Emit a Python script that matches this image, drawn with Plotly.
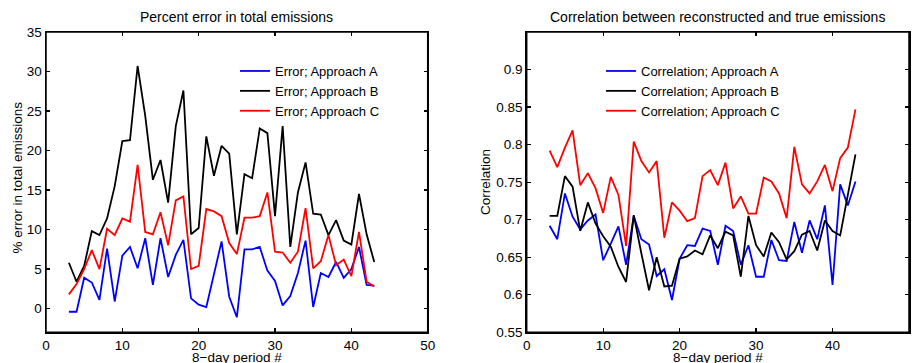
import plotly.graph_objects as go

periods = list(range(3, 44))

err_a = [-0.4, -0.4, 3.9, 3.3, 1.1, 7.6, 0.9, 6.7, 7.8, 5.1, 8.9, 3.0, 8.9, 4.0, 6.8, 8.7,
         1.3, 0.5, 0.2, 4.3, 8.5, 1.5, -1.1, 7.5, 7.5, 7.8, 4.8, 3.5, 0.4, 1.6, 4.5, 8.6,
         0.2, 4.5, 4.0, 5.9, 3.9, 5.0, 7.8, 3.0, 2.9]
err_b = [5.8, 3.4, 5.4, 9.8, 9.3, 11.4, 15.5, 21.2, 21.3, 30.7, 24.4, 16.3, 18.8, 13.4,
         23.1, 27.6, 9.4, 10.2, 21.8, 16.8, 20.6, 19.6, 9.4, 17.0, 16.5, 22.8, 22.2, 11.7,
         23.1, 7.8, 14.7, 18.5, 12.0, 11.9, 9.3, 11.2, 8.6, 8.1, 14.5, 9.4, 5.9]
err_c = [1.8, 3.1, 5.0, 7.4, 5.0, 10.1, 9.3, 11.4, 11.0, 18.2, 9.7, 9.4, 12.2, 8.0, 13.7,
         14.2, 5.0, 5.4, 12.6, 12.3, 11.7, 8.3, 6.9, 11.5, 11.5, 11.7, 14.7, 7.2, 7.1, 5.8,
         7.2, 12.7, 5.1, 6.0, 9.3, 5.5, 6.2, 4.1, 9.7, 3.4, 2.8]

corr_a = [0.692, 0.674, 0.735, 0.704, 0.687, 0.699, 0.707, 0.646, 0.668, 0.691, 0.640,
          0.705, 0.674, 0.667, 0.625, 0.634, 0.593, 0.648, 0.666, 0.665, 0.688, 0.685,
          0.640, 0.692, 0.685, 0.640, 0.666, 0.624, 0.624, 0.673, 0.646, 0.645, 0.697,
          0.656, 0.699, 0.674, 0.719, 0.613, 0.747, 0.719, 0.751]
corr_b = [0.705, 0.705, 0.758, 0.744, 0.685, 0.723, 0.695, 0.678, 0.664, 0.637, 0.617,
          0.706, 0.655, 0.606, 0.650, 0.611, 0.612, 0.648, 0.651, 0.659, 0.654, 0.679,
          0.662, 0.684, 0.679, 0.624, 0.705, 0.666, 0.651, 0.683, 0.670, 0.647, 0.658,
          0.680, 0.685, 0.659, 0.699, 0.685, 0.679, 0.733, 0.787]
corr_c = [0.792, 0.770, 0.796, 0.819, 0.746, 0.762, 0.742, 0.709, 0.757, 0.733, 0.665,
          0.804, 0.778, 0.763, 0.778, 0.676, 0.723, 0.712, 0.698, 0.702, 0.758, 0.766,
          0.746, 0.776, 0.715, 0.731, 0.708, 0.708, 0.756, 0.751, 0.735, 0.702, 0.797,
          0.747, 0.735, 0.751, 0.773, 0.738, 0.782, 0.796, 0.847]

err_ticks = [0, 5, 10, 15, 20, 25, 30, 35]
corr_ticks = [0.55, 0.6, 0.65, 0.7, 0.75, 0.8, 0.85, 0.9]
corr_tick_text = ["0.55", "0.6", "0.65", "0.7", "0.75", "0.8", "0.85", "0.9"]
period_ticks = [0, 10, 20, 30, 40, 50]

colors = {"A": "#0000ff", "B": "#000000", "C": "#ff0000"}
FONT = "Liberation Sans, Arial, Helvetica, sans-serif"
FS = 13.5
W, H = 916, 363

fig = go.Figure()
for key, ys in (("A", err_a), ("B", err_b), ("C", err_c)):
    fig.add_trace(go.Scatter(x=periods, y=ys, mode="lines", name=f"Error; Approach {key}",
                             line=dict(color=colors[key], width=1.8),
                             xaxis="x", yaxis="y", legend="legend"))
for key, ys in (("A", corr_a), ("B", corr_b), ("C", corr_c)):
    fig.add_trace(go.Scatter(x=periods, y=ys, mode="lines", name=f"Correlation; Approach {key}",
                             line=dict(color=colors[key], width=1.8),
                             xaxis="x2", yaxis="y2", legend="legend2"))

ydom = [(H - 332.3) / H, (H - 32) / H]
common = dict(showline=True, linecolor="black", linewidth=1.5, mirror="ticks",
              ticks="inside", ticklen=4, tickwidth=1.2, tickcolor="black", showgrid=False,
              zeroline=False, automargin=False, tickfont=dict(size=FS, color="black"))

fig.update_layout(
    template="none",
    width=W, height=H,
    margin=dict(l=0, r=0, t=0, b=0, pad=0, autoexpand=False),
    paper_bgcolor="white", plot_bgcolor="white",
    font=dict(family=FONT, size=FS, color="black"),
    showlegend=True,
    xaxis=dict(domain=[46 / W, 427.7 / W], range=[0, 50], tickvals=period_ticks,
               anchor="y", **common),
    yaxis=dict(domain=ydom, range=[-3, 35], tickvals=err_ticks, anchor="x", **common),
    xaxis2=dict(domain=[526.7 / W, 909 / W], range=[0, 50], tickvals=period_ticks,
                anchor="y2", **common),
    yaxis2=dict(domain=ydom, range=[0.55, 0.95], anchor="x2",
                tickvals=corr_ticks, ticktext=corr_tick_text, **common),
    legend=dict(x=235 / W, y=(H - 56) / H, xanchor="left", yanchor="top",
                bgcolor="rgba(0,0,0,0)", borderwidth=0, font=dict(size=13),
                itemwidth=30, tracegroupgap=0),
    legend2=dict(x=601 / W, y=(H - 56) / H, xanchor="left", yanchor="top",
                 bgcolor="rgba(0,0,0,0)", borderwidth=0, font=dict(size=13),
                 itemwidth=30, tracegroupgap=0),
)

frame = dict(type="rect", x0=0, x1=1, y0=0, y1=1, line=dict(color="black", width=1.5),
             fillcolor="rgba(0,0,0,0)", layer="above")
fig.add_shape(xref="x domain", yref="y domain", **frame)
fig.add_shape(xref="x2 domain", yref="y2 domain", **frame)

def note(text, x, y, size=FS, **kw):
    fig.add_annotation(text=text, x=x / W, y=(H - y) / H, xref="paper", yref="paper",
                       showarrow=False, font=dict(size=size, family=FONT, color="black"),
                       **kw)

note("Percent error in total emissions", (46 + 427.7) / 2, 16.7, size=14,
     xanchor="center", yanchor="middle")
note("Correlation between reconstructed and true emissions", (526.7 + 909) / 2, 16.7,
     size=14, xanchor="center", yanchor="middle")
note("8\u2212day period #", (46 + 427.7) / 2, 357.5, xanchor="center", yanchor="middle")
note("8\u2212day period #", (526.7 + 909) / 2, 357.5, xanchor="center", yanchor="middle")
note("% error in total emissions", 17.5, 178, xanchor="center", yanchor="middle",
     textangle=-90)
note("Correlation", 486, 182, xanchor="center", yanchor="middle", textangle=-90)

page_fix = ("document.documentElement.style.margin='0';"
            "document.documentElement.style.overflow='hidden';"
            "document.body.style.margin='0';"
            "document.body.style.padding='0';"
            "document.body.style.overflow='hidden';")

fig.write_html("out.html", post_script=page_fix,
               config={"displayModeBar": False, "staticPlot": True})
